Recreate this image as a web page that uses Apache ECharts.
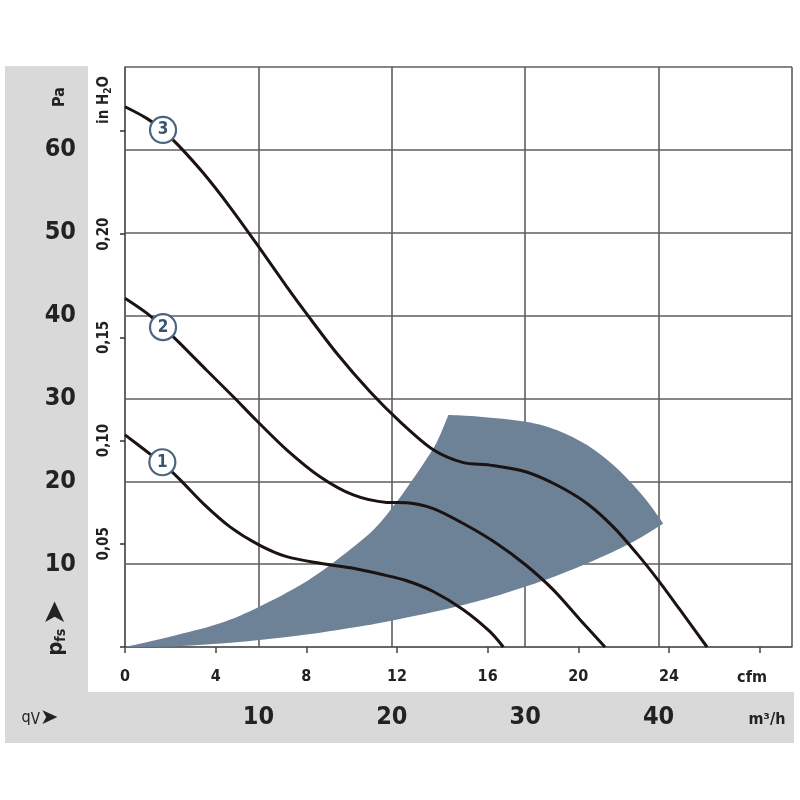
<!DOCTYPE html>
<html>
<head>
<meta charset="utf-8">
<script src="https://cdn.jsdelivr.net/npm/echarts@6/dist/echarts.min.js"></script>
<style>html,body{margin:0;padding:0;background:#fff}#c{width:800px;height:800px}</style>
</head>
<body>
<div id="c"></div>
<script>
// ---- data (qV in m³/h, static pressure in Pa) ----
const curve1 = [[0,25.6],[1.63,23.6],[2.87,22.1],[4.12,20.2],[5.87,17.3],[7.87,14.5],[10.07,12.3],[12.12,10.9],[14.62,10.1],[17.11,9.5],[19.12,8.8],[21.12,8.0],[23.11,6.7],[25.36,4.5],[27.36,1.85],[28.36,0]];
const curve2 = [[0,42.1],[1.63,40.3],[2.85,38.6],[4.12,36.65],[6.12,33.4],[8.12,30.2],[9.82,27.4],[12.12,23.8],[14.62,20.55],[17.11,18.35],[19.62,17.45],[21.12,17.4],[23.11,16.7],[25.36,14.9],[27.86,12.5],[30.04,9.9],[32.11,6.9],[34.11,3.3],[35.98,0]];
const curve3 = [[0,65.2],[1.63,63.8],[2.87,62.3],[3.97,60.6],[5.87,57.2],[7.87,53.1],[10.07,48.2],[12.12,43.5],[13.62,40.2],[15.87,35.45],[18.37,30.8],[20.61,27.2],[23.11,23.8],[25.36,22.25],[27.36,21.95],[30.04,21.15],[32.36,19.55],[34.61,17.35],[36.6,14.5],[38.36,11.3],[40.05,7.9],[41.6,4.5],[43.63,0]];
// working range: inner edge (from origin to top corner), outer arc, lower edge (back to origin)
const rangeInner = [[0,0],[3.37,1.24],[7.12,2.86],[10.07,4.86],[13.37,7.69],[15.87,10.5],[18.61,14.12],[20.31,17.4],[21.12,19.2],[22.36,22.1],[23.37,24.7],[24.24,28.0]];
const rangeOuter = [[24.24,28.0],[26.61,27.8],[30.04,27.2],[32.36,26.2],[34.61,24.4],[36.6,21.96],[38.1,19.55],[39.36,17.14],[40.35,14.9]];
const rangeLower = [[40.35,14.9],[38.1,12.7],[35.1,10.4],[32.36,8.6],[30.04,7.3],[27.36,5.95],[24.12,4.6],[19.87,3.15],[17.11,2.35],[13.62,1.5],[10.07,0.85],[6.62,0.36],[3.37,0.06],[0,0]];
const curveLabels = [[2.8,22.3,'1'],[2.85,38.6,'2'],[2.85,62.4,'3']];
const m3hTicks = [10,20,30,40];
const paTicks = [10,20,30,40,50,60];
const cfmTicks = [0,4,8,12,16,20,24];
const inH2OTicks = [0.05,0.10,0.15,0.20];
const CFM_TO_M3H = 1.699;
const PA_PER_INH2O = 249.09;

const narrow = '"DejaVu Sans Condensed","DejaVu Sans",Arial,sans-serif';
const chart = echarts.init(document.getElementById('c'), null, {renderer:'canvas'});
const gridLine = {show:true, lineStyle:{color:'#5e5e5e', width:1.6}};
const curveStyle = {color:'#1c1212', width:3};

// Catmull-Rom spline through pixel points -> SVG path commands
function splinePath(pts, start) {
  let d = start ? 'M' + pts[0][0] + ' ' + pts[0][1] : '';
  for (let i = 0; i < pts.length - 1; i++) {
    const p0 = pts[Math.max(i-1,0)], p1 = pts[i], p2 = pts[i+1], p3 = pts[Math.min(i+2, pts.length-1)];
    const c1 = [p1[0] + (p2[0]-p0[0])/6, p1[1] + (p2[1]-p0[1])/6];
    const c2 = [p2[0] - (p3[0]-p1[0])/6, p2[1] - (p3[1]-p1[1])/6];
    d += ' C' + c1[0] + ' ' + c1[1] + ' ' + c2[0] + ' ' + c2[1] + ' ' + p2[0] + ' ' + p2[1];
  }
  return d;
}

chart.setOption({
  backgroundColor:'#ffffff',
  animation:false,
  grid:{left:125, right:8, top:67, bottom:153},
  graphic:[
    {type:'rect', z:-10, shape:{x:5,y:66,width:83,height:677}, style:{fill:'#d9d9d9'}},
    {type:'rect', z:-10, shape:{x:5,y:692,width:789,height:51}, style:{fill:'#d9d9d9'}},
    {type:'text', x:60, y:97, rotation:Math.PI/2, style:{text:'Pa', font:'bold 16px '+narrow, fill:'#222', align:'center', verticalAlign:'middle'}},
    {type:'text', x:104, y:100, rotation:Math.PI/2, style:{text:'in H{s|2}O', fill:'#222', align:'center', verticalAlign:'middle', font:'bold 15px '+narrow,
      rich:{s:{font:'bold 10px '+narrow, fill:'#222', padding:[9,0,0,0]}}}},
    {type:'text', x:56, y:628, rotation:Math.PI/2, style:{text:'{p|p}{s|fs} {a|➤}', fill:'#222', align:'center', verticalAlign:'middle',
      rich:{p:{font:'bold 22px '+narrow, fill:'#222'}, s:{font:'bold 14px '+narrow, fill:'#222', padding:[10,0,0,0]}, a:{font:'30px DejaVu Sans', fill:'#222'}}}},
    {type:'text', x:40, y:718, style:{text:'{q|q}{s|V}{a|➤}', align:'center', verticalAlign:'middle',
      rich:{q:{font:'16px '+narrow, fill:'#222'}, s:{font:'15px '+narrow, fill:'#222', padding:[4,0,0,0]}, a:{font:'22px DejaVu Sans', fill:'#222'}}}},
    {type:'text', x:767, y:720, style:{text:'m³/h', font:'bold 16px '+narrow, fill:'#222', align:'center', verticalAlign:'middle'}},
    {type:'text', x:752, y:678, style:{text:'cfm', font:'bold 16px '+narrow, fill:'#222', align:'center', verticalAlign:'middle'}}
  ],
  xAxis:[
    {type:'value', min:0, max:50, interval:10, position:'bottom',
     axisLine:{show:false}, axisTick:{show:false}, splitLine:gridLine,
     axisLabel:{margin:58, fontFamily:narrow, fontWeight:'bold', fontSize:25, color:'#222',
       formatter:v => m3hTicks.includes(v) ? String(v) : ''}},
    {type:'value', min:0, max:50/CFM_TO_M3H, interval:4, position:'bottom',
     axisLine:{show:true, lineStyle:{color:'#5e5e5e', width:1.6}},
     axisTick:{show:true, length:6, lineStyle:{color:'#444', width:1.5}},
     splitLine:{show:false},
     axisLabel:{margin:22, fontFamily:narrow, fontWeight:'bold', fontSize:16, color:'#222', showMaxLabel:false,
       formatter:v => cfmTicks.includes(Math.round(v*1000)/1000) ? String(v) : ''}}
  ],
  yAxis:[
    {type:'value', min:0, max:70, interval:10, position:'left',
     axisLine:{show:true, lineStyle:{color:'#5e5e5e', width:1.6}}, axisTick:{show:false}, splitLine:gridLine,
     axisLabel:{margin:49, fontFamily:narrow, fontWeight:'bold', fontSize:25, color:'#222',
       formatter:v => paTicks.includes(v) ? String(v) : ''}},
    {type:'value', min:0, max:70/PA_PER_INH2O, interval:0.05, position:'left',
     axisLine:{show:false}, splitLine:{show:false},
     axisTick:{show:true, length:5, lineStyle:{color:'#333', width:1.5}},
     axisLabel:{margin:13, rotate:90, fontFamily:narrow, fontWeight:'bold', fontSize:15, color:'#222', showMaxLabel:false,
       formatter:v => inH2OTicks.some(t => Math.abs(t-v)<1e-6) ? v.toFixed(2).replace('.',',') : ''}}
  ],
  series:[
    {type:'custom', xAxisIndex:0, yAxisIndex:0, z:1, silent:true,
     data:[0],
     renderItem:(params, api) => {
       const toPx = arr => arr.map(p => api.coord(p));
       const d = splinePath(toPx(rangeInner), true) + splinePath(toPx(rangeOuter), false) + splinePath(toPx(rangeLower), false) + ' Z';
       return {type:'path', shape:{pathData:d}, style:{fill:'#6d8297'}};
     }},
    {type:'line', data:curve1, smooth:0.3, symbol:'none', lineStyle:curveStyle, z:3, xAxisIndex:0, yAxisIndex:0},
    {type:'line', data:curve2, smooth:0.3, symbol:'none', lineStyle:curveStyle, z:3, xAxisIndex:0, yAxisIndex:0},
    {type:'line', data:curve3, smooth:0.3, symbol:'none', lineStyle:curveStyle, z:3, xAxisIndex:0, yAxisIndex:0},
    {type:'scatter', data:curveLabels, z:5, xAxisIndex:0, yAxisIndex:0, symbol:'circle', symbolSize:26,
     itemStyle:{color:'#ffffff', borderColor:'#4a6580', borderWidth:2.2, opacity:1},
     label:{show:true, position:'inside', formatter:p => p.data[2], fontFamily:narrow, fontWeight:'bold', fontSize:17, color:'#3a5470'}}
  ]
});
</script>
</body>
</html>
